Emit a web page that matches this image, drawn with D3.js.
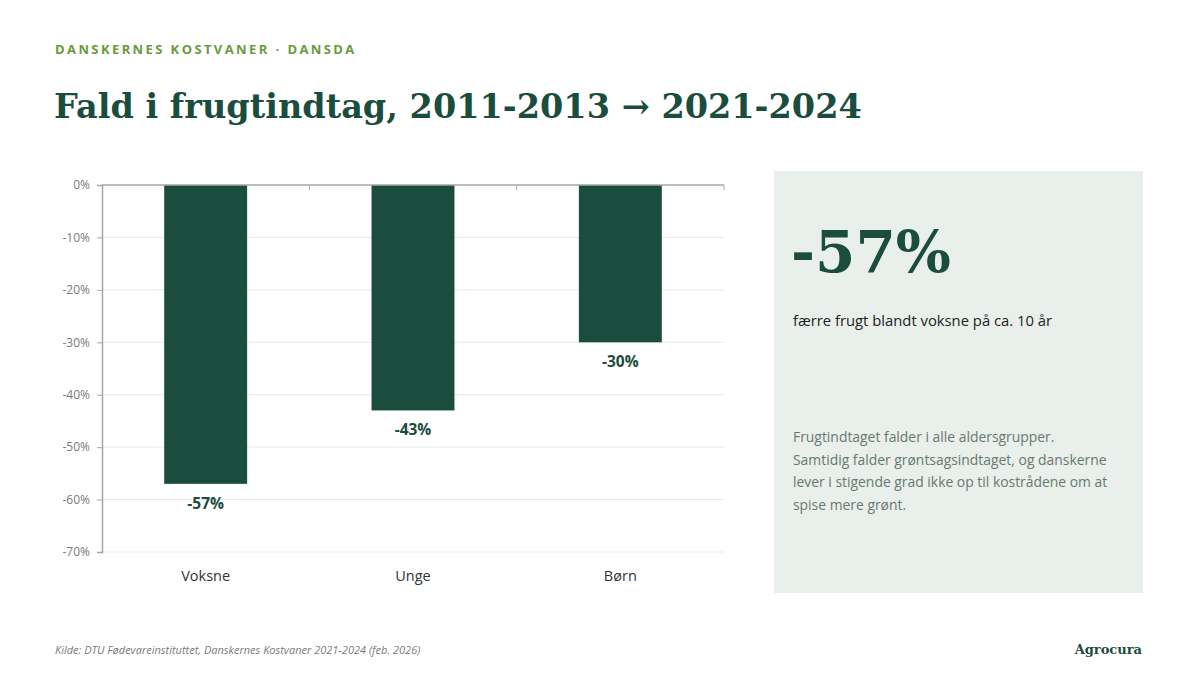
<!DOCTYPE html>
<html>
<head>
<meta charset="utf-8">
<script src="https://cdn.jsdelivr.net/npm/d3@7"></script>
<style>
  body { margin: 0; background: #fff; }
  svg { display: block; }
</style>
</head>
<body>
<div id="chart"></div>
<script>
// data
const categories = ["Voksne", "Unge", "Børn"];
const changes = [-57, -43, -30];
const yTicks = [0, -10, -20, -30, -40, -50, -60, -70];
const bodyLines = [
  "Frugtindtaget falder i alle aldersgrupper.",
  "Samtidig falder grøntsagsindtaget, og danskerne",
  "lever i stigende grad ikke op til kostrådene om at",
  "spise mere grønt."
];

const width = 1200, height = 675;
const green = "#1b4d3e";
const sans = "'Open Sans', 'Noto Sans', sans-serif";
const serif = "'DejaVu Serif', Georgia, serif";

const svg = d3.select("#chart").append("svg")
  .attr("width", width)
  .attr("height", height);

// header
svg.append("text")
  .attr("x", 55).attr("y", 54)
  .style("font-family", sans)
  .style("font-size", "13px")
  .style("font-weight", 700)
  .style("letter-spacing", "2.4px")
  .style("fill", "#6b9a3c")
  .text("DANSKERNES KOSTVANER · DANSDA");

svg.append("text")
  .attr("x", 54).attr("y", 118)
  .style("font-family", serif)
  .style("font-size", "33.5px")
  .style("font-weight", 700)
  .style("fill", green)
  .text("Fald i frugtindtag, 2011-2013 → 2021-2024");

// chart area
const plot = { left: 102, right: 724, top: 185, bottom: 552 };

const x = d3.scaleBand()
  .domain(categories)
  .range([plot.left, plot.right])
  .padding(0);

const y = d3.scaleLinear()
  .domain([0, -70])
  .range([plot.top, plot.bottom]);

// gridlines
svg.append("g")
  .selectAll("line")
  .data(yTicks.filter(d => d !== 0))
  .enter()
  .append("line")
    .attr("x1", plot.left).attr("x2", plot.right)
    .attr("y1", d => y(d)).attr("y2", d => y(d))
    .style("stroke", "#e6ebe8")
    .style("stroke-width", 1);

// y axis
const yAxis = d3.axisLeft(y)
  .tickValues(yTicks)
  .tickFormat(d => d + "%")
  .tickSize(5)
  .tickPadding(7);

const gy = svg.append("g")
  .attr("transform", `translate(${plot.left},0)`)
  .call(yAxis);
gy.select(".domain").style("stroke", "#a6a6a6").style("stroke-width", 1.5);
gy.selectAll(".tick line").style("stroke", "#a6a6a6");
gy.selectAll(".tick text")
  .style("font-family", sans)
  .style("font-size", "12px")
  .style("fill", "#7a7a7a");

// bars
const barW = x.bandwidth() * 0.4;
svg.append("g")
  .selectAll("rect")
  .data(changes)
  .enter()
  .append("rect")
    .attr("x", (d, i) => x(categories[i]) + x.bandwidth() / 2 - barW / 2)
    .attr("y", y(0))
    .attr("width", barW)
    .attr("height", d => y(d) - y(0))
    .style("fill", green);

// zero axis with category boundary ticks
const gx = svg.append("g")
  .attr("transform", `translate(0,${y(0)})`);
gx.append("line")
  .attr("x1", plot.left).attr("x2", plot.right)
  .style("stroke", "#a6a6a6").style("stroke-width", 1.5);
gx.selectAll(".bt")
  .data(categories.slice(1).map(c => x(c)).concat([plot.right]))
  .enter()
  .append("line")
    .attr("class", "bt")
    .attr("x1", d => d).attr("x2", d => d)
    .attr("y1", 0).attr("y2", 5)
    .style("stroke", "#a6a6a6");

// data labels
svg.append("g")
  .selectAll("text")
  .data(changes)
  .enter()
  .append("text")
    .attr("x", (d, i) => x(categories[i]) + x.bandwidth() / 2)
    .attr("y", d => y(d) + 25)
    .attr("text-anchor", "middle")
    .style("font-family", sans)
    .style("font-size", "15.5px")
    .style("font-weight", 700)
    .style("fill", green)
    .text(d => d + "%");

// category labels
svg.append("g")
  .selectAll("text")
  .data(categories)
  .enter()
  .append("text")
    .attr("x", d => x(d) + x.bandwidth() / 2)
    .attr("y", 581)
    .attr("text-anchor", "middle")
    .style("font-family", sans)
    .style("font-size", "14.5px")
    .style("fill", "#333")
    .text(d => d);

// side panel
svg.append("rect")
  .attr("x", 774).attr("y", 171)
  .attr("width", 369).attr("height", 422)
  .style("fill", "#e9efeb");

svg.append("text")
  .attr("x", 791).attr("y", 272)
  .style("font-family", serif)
  .style("font-size", "58px")
  .style("font-weight", 700)
  .style("fill", green)
  .text(changes[0] + "%");

svg.append("text")
  .attr("x", 793).attr("y", 326)
  .style("font-family", sans)
  .style("font-size", "14.8px")
  .style("fill", "#222")
  .text("færre frugt blandt voksne på ca. 10 år");

svg.append("g")
  .selectAll("text")
  .data(bodyLines)
  .enter()
  .append("text")
    .attr("x", 793)
    .attr("y", (d, i) => 442 + i * 22.5)
    .style("font-family", sans)
    .style("font-size", "13.9px")
    .style("fill", "#667a70")
    .text(d => d);

// footer
svg.append("text")
  .attr("x", 55).attr("y", 654)
  .style("font-family", sans)
  .style("font-size", "11px")
  .style("font-style", "italic")
  .style("fill", "#7a7a7a")
  .text("Kilde: DTU Fødevareinstituttet, Danskernes Kostvaner 2021-2024 (feb. 2026)");

svg.append("text")
  .attr("x", 1142).attr("y", 654)
  .attr("text-anchor", "end")
  .style("font-family", serif)
  .style("font-size", "13px")
  .style("font-weight", 700)
  .style("fill", green)
  .text("Agrocura");
</script>
</body>
</html>
